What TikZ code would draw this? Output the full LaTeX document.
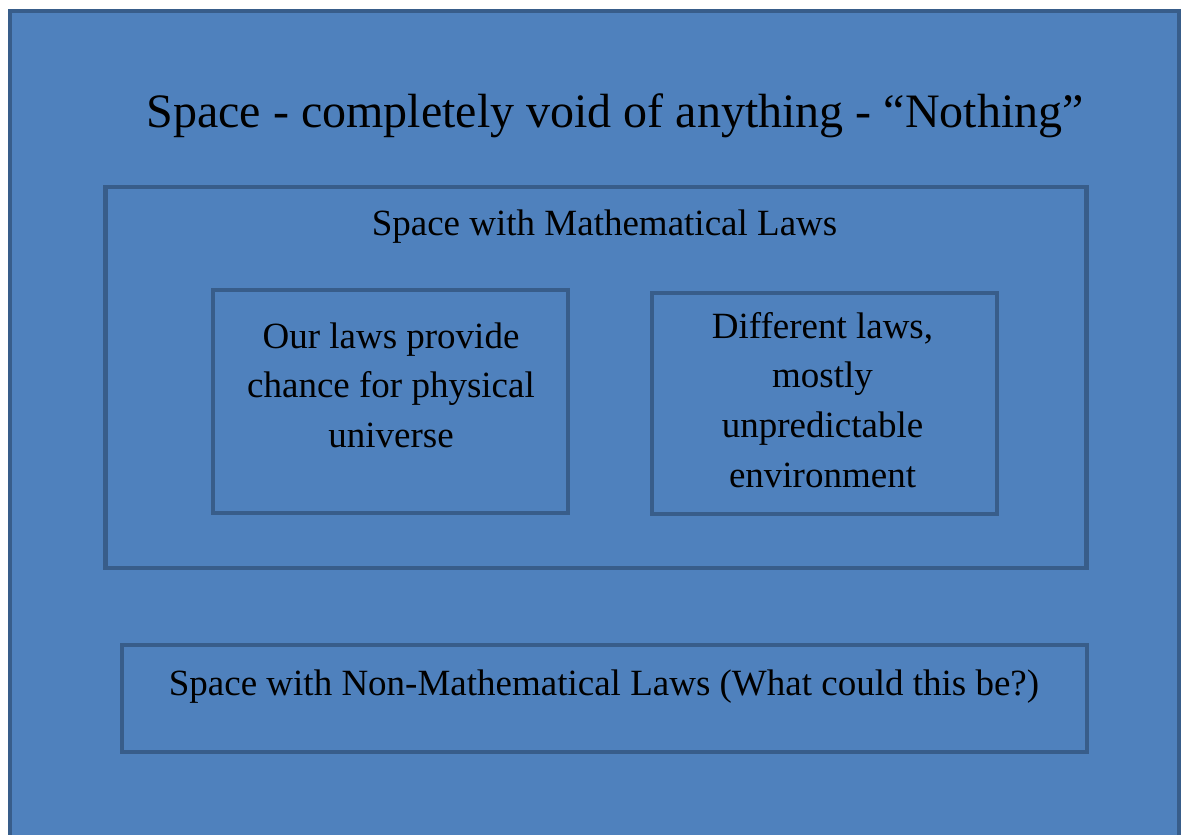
\documentclass[tikz,border=0pt]{standalone}
\usepackage{fontspec}
\setmainfont{Liberation Serif}
\usetikzlibrary{positioning,calc}
\definecolor{panel}{HTML}{4F81BD}
\definecolor{rim}{HTML}{385D8A}

\begin{document}
\begin{tikzpicture}[x=1pt,y=-1pt,
    box/.style={draw=rim,fill=panel,line width=4.5pt,inner sep=0pt,outer sep=0pt},
    big/.style={font=\fontsize{48}{55}\selectfont,inner sep=0pt},
    txt/.style={font=\fontsize{37}{49.8}\selectfont,align=center,inner sep=0pt}]
  \useasboundingbox (0,0) rectangle (1184,835);
  \fill[white] (0,0) rectangle (1184,835);
  \clip (0,0) rectangle (1184,835);
  % outer space, runs off the bottom
  \node[box,minimum width=1169pt,minimum height=900pt,anchor=north west] (void) at (10,11) {};
  \node[big,anchor=base] (voidT) at (615,127) {Space - completely void of anything - “Nothing”};
  % mathematical laws
  \node[box,minimum width=981pt,minimum height=381pt] (math) at (596.2,377.4) {};
  \node[txt,anchor=base] (mathT) at (604.5,235) {Space with Mathematical Laws};
  \node[box,minimum width=355pt,minimum height=223pt] (ours) at (390.5,401.5) {};
  \node[txt] (oursT) at (391,385.3) {Our laws provide\\chance for physical\\universe};
  \node[box,minimum width=345pt,minimum height=221pt] (diff) at (824.5,403.5) {};
  \node[txt] (diffT) at (822.5,399.9) {Different laws,\\mostly\\unpredictable\\environment};
  % non-mathematical laws
  \node[box,minimum width=965pt,minimum height=107pt] (nonmath) at (604.3,698.5) {};
  \node[txt,anchor=base] (nonmathT) at (604,695) {Space with Non-Mathematical Laws (What could this be?)};
\end{tikzpicture}
\end{document}
